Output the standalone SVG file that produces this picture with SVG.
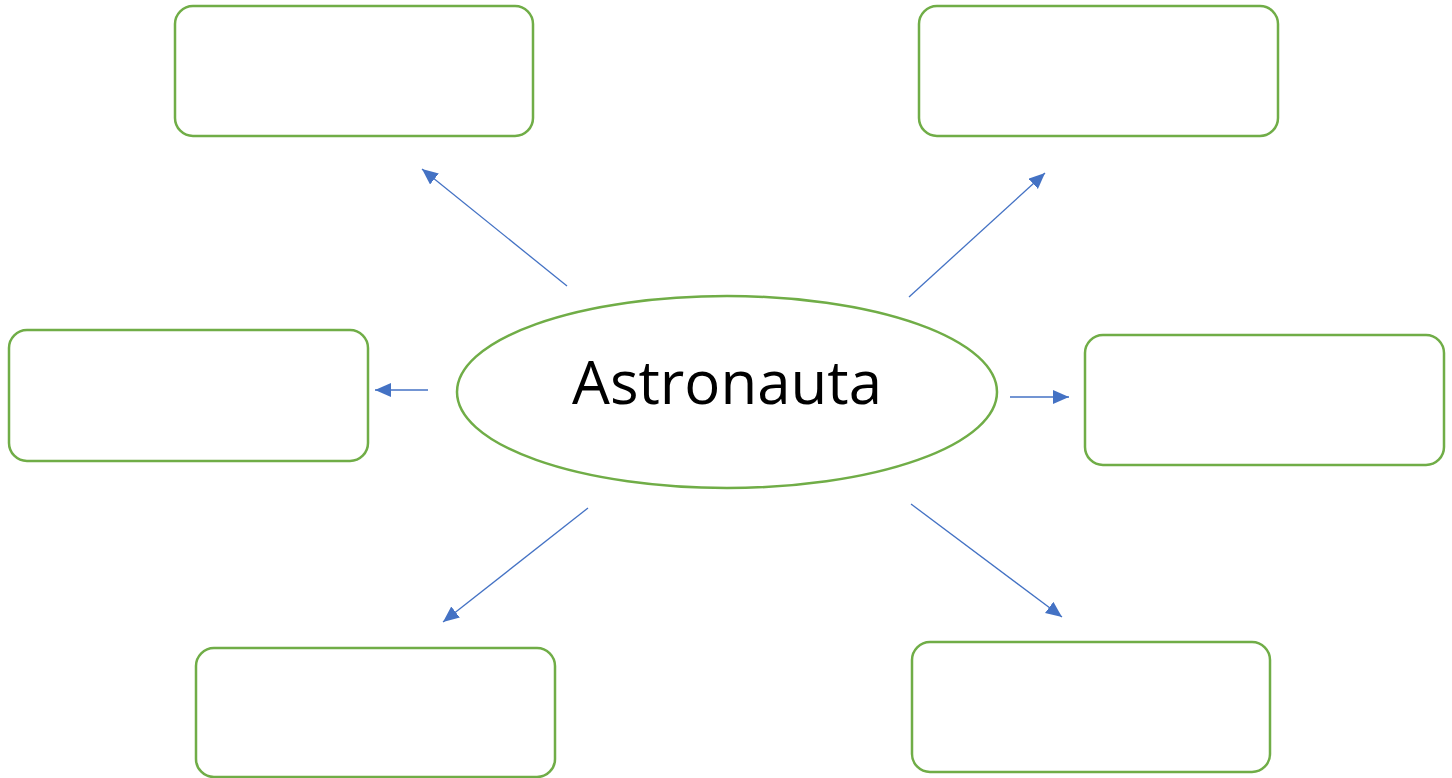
<svg xmlns="http://www.w3.org/2000/svg" width="1452" height="778" viewBox="0 0 1452 778">
<style>
.box{fill:#fff;stroke:#70AD47;stroke-width:2.5}
.conn{stroke:#4472C4;stroke-width:1.3;fill:none;marker-end:url(#ah)}
.lbl{font-family:"Open Sans","Liberation Sans",sans-serif;font-size:60px;fill:#000}
</style>
<defs>
<marker id="ah" markerUnits="userSpaceOnUse" markerWidth="18" markerHeight="16" refX="16" refY="7" orient="auto">
<path d="M0,0 L16,7 L0,14 Z" fill="#4472C4"/>
</marker>
</defs>
<rect width="1452" height="778" fill="#fff"/>
<g id="n-tl"><rect class="box" x="175" y="6" width="358" height="130" rx="18"/></g>
<g id="n-tr"><rect class="box" x="919" y="6" width="359" height="130" rx="18"/></g>
<g id="n-ml"><rect class="box" x="9" y="330" width="359" height="131" rx="18"/></g>
<g id="n-mr"><rect class="box" x="1085" y="335" width="359" height="130" rx="18"/></g>
<g id="n-bl"><rect class="box" x="196" y="648" width="359" height="129" rx="18"/></g>
<g id="n-br"><rect class="box" x="912" y="642" width="358" height="130" rx="18"/></g>
<g id="n-center"><ellipse class="box" cx="727" cy="392" rx="270" ry="96"/><text class="lbl" x="727" y="404" text-anchor="middle" textLength="310" lengthAdjust="spacingAndGlyphs">Astronauta</text></g>
<g id="connectors">
<line class="conn" x1="567" y1="286" x2="422" y2="169"/>
<line class="conn" x1="909" y1="297" x2="1045" y2="173"/>
<line class="conn" x1="428" y1="390" x2="375" y2="390"/>
<line class="conn" x1="1010" y1="397" x2="1069" y2="397"/>
<line class="conn" x1="588" y1="508" x2="443" y2="622"/>
<line class="conn" x1="911" y1="504" x2="1062" y2="617"/>
</g>
</svg>
